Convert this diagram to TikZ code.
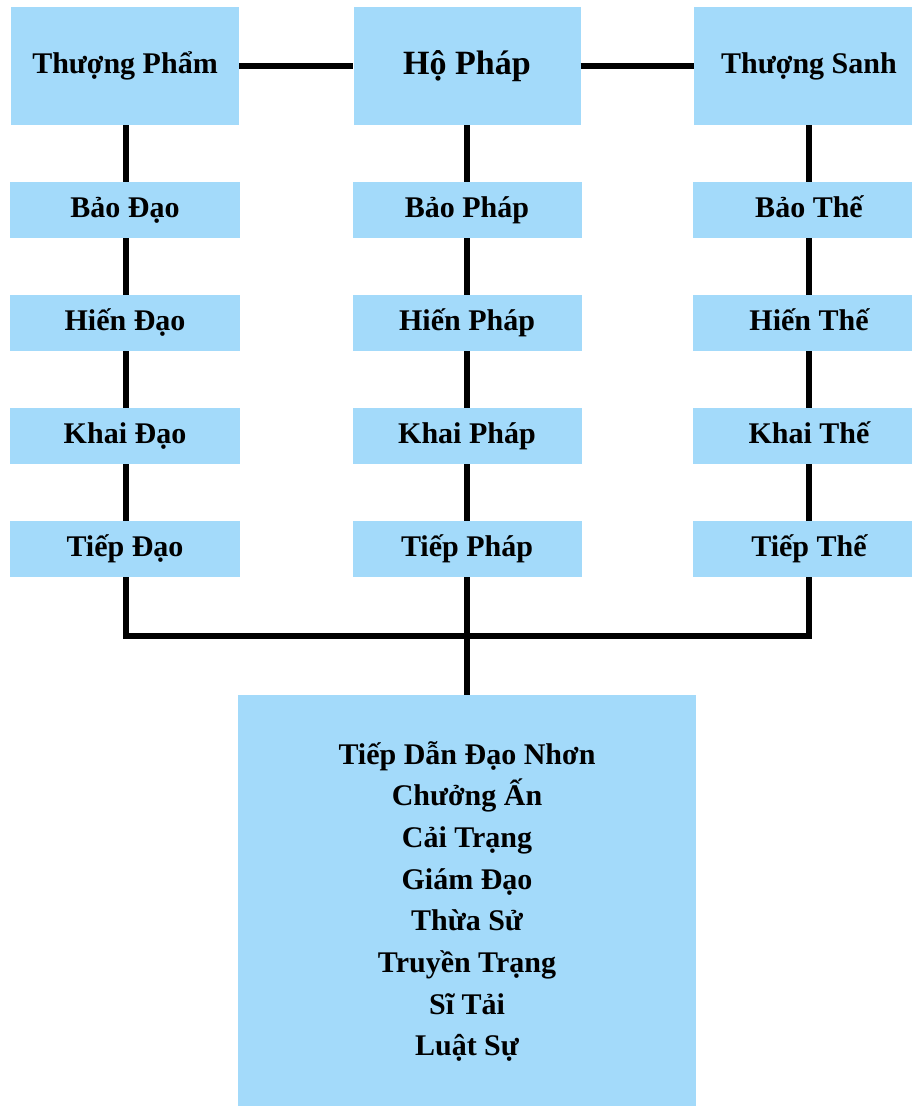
\documentclass[tikz,border=0pt]{standalone}
\usepackage{fontspec}
\setmainfont{Liberation Serif}
\definecolor{boxblue}{RGB}{163,218,250}
\begin{document}
\begin{tikzpicture}[x=1pt,y=-1pt,
  box/.style={fill=boxblue,draw=none,inner sep=0pt,font=\fontsize{30}{36}\selectfont\bfseries,
    text height=21.3pt,text depth=7.3pt},
  topbox/.style={box,minimum height=118pt},
  rankbox/.style={box,minimum height=56pt},
  link/.style={line width=6pt,line join=miter}]
\useasboundingbox (0,0) rectangle (912,1106);
% top row
\node[topbox,minimum width=228pt] (tp) at (125,66) {Thượng Phẩm};
\node[topbox,minimum width=227pt,font=\fontsize{34}{40}\selectfont\bfseries,text height=23pt,text depth=7pt] (hp) at (467,66) {Hộ Pháp};
\node[topbox,minimum width=230pt] (ts) at (809,66) {Thượng Sanh};
% left column
\node[rankbox,minimum width=230pt] (l1) at (125,210) {Bảo Đạo};
\node[rankbox,minimum width=230pt] (l2) at (125,323) {Hiến Đạo};
\node[rankbox,minimum width=230pt] (l3) at (125,436) {Khai Đạo};
\node[rankbox,minimum width=230pt] (l4) at (125,549) {Tiếp Đạo};
% middle column
\node[rankbox,minimum width=229pt] (m1) at (467,210) {Bảo Pháp};
\node[rankbox,minimum width=229pt] (m2) at (467,323) {Hiến Pháp};
\node[rankbox,minimum width=229pt] (m3) at (467,436) {Khai Pháp};
\node[rankbox,minimum width=229pt] (m4) at (467,549) {Tiếp Pháp};
% right column
\node[rankbox,minimum width=232pt] (r1) at (809,210) {Bảo Thế};
\node[rankbox,minimum width=232pt] (r2) at (809,323) {Hiến Thế};
\node[rankbox,minimum width=232pt] (r3) at (809,436) {Khai Thế};
\node[rankbox,minimum width=232pt] (r4) at (809,549) {Tiếp Thế};
% bottom box
\node[fill=boxblue,inner sep=0pt,minimum width=458pt,minimum height=411pt,align=center,
  font=\fontsize{30}{41.7}\selectfont\bfseries] (bot) at (467,900.5)
  {\rule{0pt}{38pt}Tiếp Dẫn Đạo Nhơn\\Chưởng Ấn\\Cải Trạng\\Giám Đạo\\Thừa Sử\\Truyền Trạng\\Sĩ Tải\\Luật Sự\rule[-19pt]{0pt}{19pt}};
% connectors
\draw[link] (tp.east) -- (hp.west);
\draw[link] (hp.east) -- (ts.west);
\draw[link] ([xshift=1pt]tp.south) -- ([xshift=1pt]l1.north);
\draw[link] ([xshift=1pt]l1.south) -- ([xshift=1pt]l2.north);
\draw[link] ([xshift=1pt]l2.south) -- ([xshift=1pt]l3.north);
\draw[link] ([xshift=1pt]l3.south) -- ([xshift=1pt]l4.north);
\draw[link] (hp.south) -- (m1.north);
\draw[link] (m1.south) -- (m2.north);
\draw[link] (m2.south) -- (m3.north);
\draw[link] (m3.south) -- (m4.north);
\draw[link] (ts.south) -- (r1.north);
\draw[link] (r1.south) -- (r2.north);
\draw[link] (r2.south) -- (r3.north);
\draw[link] (r3.south) -- (r4.north);
\coordinate (jl) at ([xshift=1pt]l4.south |- 0,636);
\draw[link] ([xshift=1pt]l4.south) -- (jl) -| (r4.south);
\draw[link] (m4.south) -- (bot.north);
\end{tikzpicture}
\end{document}
